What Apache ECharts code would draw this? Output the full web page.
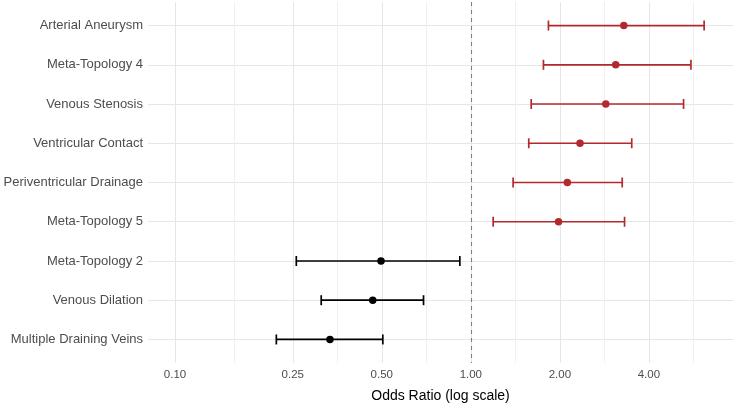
<!DOCTYPE html>
<html lang="en">
<head>
    <meta charset="utf-8">
    <script src="https://cdn.jsdelivr.net/npm/echarts@6/dist/echarts.min.js"></script>
    <style>
        html, body {
            margin: 0px;
            padding: 0px;
            background-color: #fff;
        }

        #chart {
            width: 737px;
            height: 408px;
        }
    </style>
    <title>Odds Ratio forest plot</title>
</head>
<body>
<div id="chart"></div>
<script type="text/javascript">
    // rows top to bottom
    var factors = ['Arterial Aneurysm', 'Meta-Topology 4', 'Venous Stenosis', 'Ventricular Contact',
        'Periventricular Drainage', 'Meta-Topology 5', 'Meta-Topology 2', 'Venous Dilation', 'Multiple Draining Veins'];
    var oddsRatio = [3.29, 3.09, 2.86, 2.34, 2.12, 1.98, 0.497, 0.466, 0.334];
    var ciLower = [1.83, 1.76, 1.60, 1.57, 1.39, 1.19, 0.257, 0.312, 0.220];
    var ciUpper = [6.15, 5.55, 5.24, 3.50, 3.25, 3.31, 0.918, 0.692, 0.504];

    var xTicks = [0.1, 0.25, 0.5, 1, 2, 4];
    var xMinorTicks = [0.158, 0.354, 0.707, 1.414, 2.83, 5.66];
    var rowTicks = [0, 1, 2, 3, 4, 5, 6, 7, 8];

    var RED = '#b22a2f';
    var BLACK = '#000000';
    var FONT = 'Helvetica, Arial, "Liberation Sans", sans-serif';

    var myChart = echarts.init(document.getElementById('chart'), null, {renderer: 'canvas'});

    var pointData = [];
    var barData = [];
    for (var i = 0; i < factors.length; i++) {
        pointData.push([oddsRatio[i], i, ciLower[i]]);
        barData.push([ciLower[i], ciUpper[i], i]);
    }

    function sigColor(lower) {
        return lower > 1 ? RED : BLACK;
    }

    var option = {
        animation: false,
        backgroundColor: '#fff',
        textStyle: {fontFamily: FONT},
        grid: {
            left: 148,
            right: 4,
            top: 2,
            bottom: 44,
            containLabel: false
        },
        xAxis: [{
            type: 'log',
            logBase: 10,
            min: 0.081,
            max: 7.7,
            name: 'Odds Ratio (log scale)',
            nameLocation: 'middle',
            nameGap: 26,
            nameTextStyle: {color: '#000', fontSize: 14, fontFamily: FONT},
            axisLine: {show: false},
            axisTick: {show: false, customValues: xTicks},
            axisLabel: {
                customValues: xTicks,
                color: '#4d4d4d',
                fontSize: 11.5,
                margin: 6,
                fontFamily: FONT,
                formatter: function (v) {
                    return Number(v).toFixed(2);
                }
            },
            splitLine: {show: true, lineStyle: {color: '#e6e6e6', width: 1}}
        }, {
            type: 'log',
            logBase: 10,
            min: 0.081,
            max: 7.7,
            position: 'top',
            axisLine: {show: false},
            axisTick: {show: false, customValues: xMinorTicks},
            axisLabel: {show: false, customValues: xMinorTicks},
            splitLine: {show: true, lineStyle: {color: '#f0f0f0', width: 1}}
        }],
        yAxis: {
            type: 'value',
            inverse: true,
            min: -0.6,
            max: 8.6,
            axisLine: {show: false},
            axisTick: {show: false, customValues: rowTicks},
            axisLabel: {
                customValues: rowTicks,
                color: '#4d4d4d',
                fontSize: 13,
                margin: 5,
                fontFamily: FONT,
                formatter: function (v) {
                    return factors[Math.round(v)];
                }
            },
            splitLine: {show: true, lineStyle: {color: '#e6e6e6', width: 1}}
        },
        series: [{
            type: 'custom',
            xAxisIndex: 0,
            encode: {x: [0, 1], y: 2},
            data: barData,
            z: 3,
            renderItem: function (params, api) {
                var row = api.value(2);
                var lo = api.coord([api.value(0), row]);
                var hi = api.coord([api.value(1), row]);
                var cap = 5;
                var style = {stroke: sigColor(api.value(0)), lineWidth: 1.7};
                return {
                    type: 'group',
                    children: [
                        {type: 'line', shape: {x1: lo[0], y1: lo[1], x2: hi[0], y2: hi[1]}, style: style},
                        {type: 'line', shape: {x1: lo[0], y1: lo[1] - cap, x2: lo[0], y2: lo[1] + cap}, style: style},
                        {type: 'line', shape: {x1: hi[0], y1: hi[1] - cap, x2: hi[0], y2: hi[1] + cap}, style: style}
                    ]
                };
            }
        }, {
            type: 'scatter',
            xAxisIndex: 0,
            data: pointData,
            symbol: 'circle',
            symbolSize: 7.5,
            z: 4,
            itemStyle: {
                opacity: 1,
                color: function (p) {
                    return sigColor(p.data[2]);
                }
            },
            markLine: {
                silent: true,
                symbol: 'none',
                label: {show: false},
                lineStyle: {type: [4, 4], color: '#7f7f7f', width: 1.1},
                data: [{xAxis: 1}]
            }
        }]
    };

    myChart.setOption(option, true);
</script>
</body>
</html>
